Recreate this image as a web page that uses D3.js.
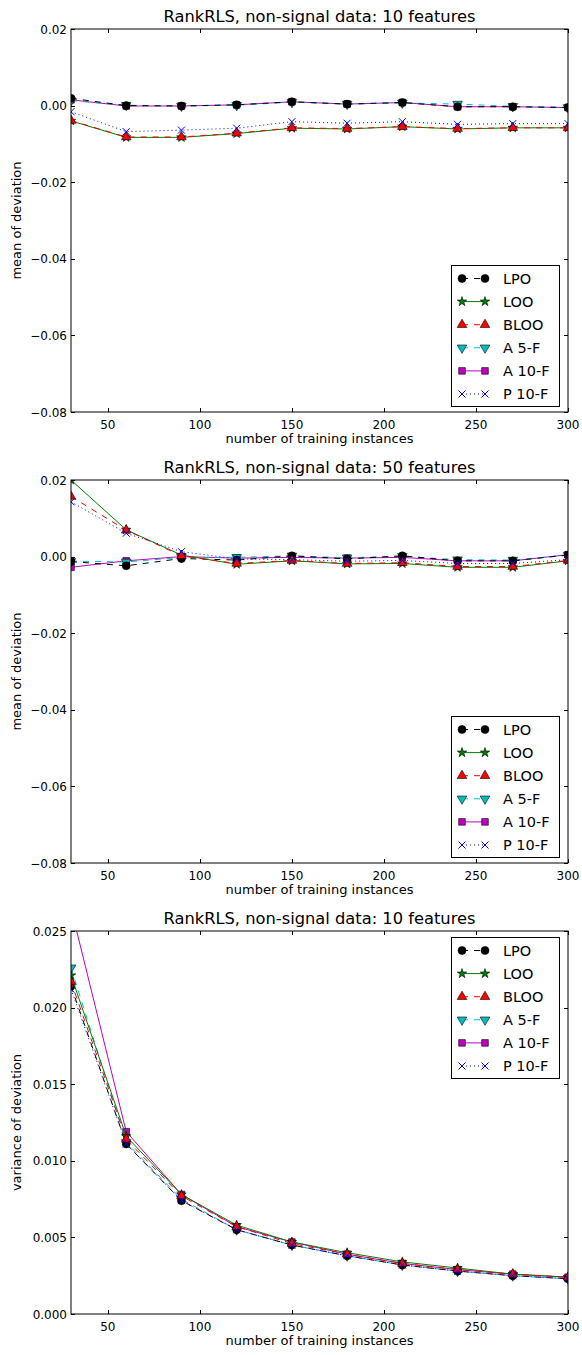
<!DOCTYPE html>
<html>
<head>
<meta charset="utf-8">
<style>
  body { margin: 0; padding: 0; background: #fff; }
  svg { display: block; }
  text { font-family: "DejaVu Sans", sans-serif; fill: #000; }
</style>
</head>
<body>
<div id="chart"></div>
<script src="https://d3js.org/d3.v7.min.js"></script>
<script>
// training set sizes
var xValues = [30, 60, 90, 120, 150, 180, 210, 240, 270, 300];
var seriesNames = ["LPO", "LOO", "BLOO", "A 5-F", "A 10-F", "P 10-F"];
var xTicks = [50, 100, 150, 200, 250, 300];

// panel 1: mean of deviation, 10 features
var mean10LPO  = [0.0019, 0.0000, -0.0001, 0.0002, 0.0010, 0.0004, 0.0008, -0.0003, -0.0003, -0.0005];
var mean10LOO  = [-0.0040, -0.0083, -0.0083, -0.0073, -0.0059, -0.0061, -0.0055, -0.0061, -0.0058, -0.0058];
var mean10BLOO = [-0.0039, -0.0082, -0.0082, -0.0072, -0.0058, -0.0060, -0.0055, -0.0060, -0.0058, -0.0058];
var mean10A5F  = [0.0013, 0.0001, -0.0001, 0.0001, 0.0009, 0.0004, 0.0007, 0.0004, -0.0002, -0.0005];
var mean10A10F = [0.0015, -0.0001, -0.0001, 0.0002, 0.0010, 0.0004, 0.0008, -0.0003, -0.0003, -0.0005];
var mean10P10F = [-0.0016, -0.0068, -0.0064, -0.0059, -0.0042, -0.0046, -0.0042, -0.0049, -0.0047, -0.0047];

// panel 2: mean of deviation, 50 features
var mean50LPO  = [-0.0013, -0.0024, -0.0005, -0.0009, 0.0002, -0.0006, 0.0002, -0.0011, -0.0011, 0.0004];
var mean50LOO  = [0.0200, 0.0070, 0.0004, -0.0020, -0.0011, -0.0019, -0.0018, -0.0028, -0.0028, -0.0011];
var mean50BLOO = [0.0157, 0.0069, 0.0002, -0.0018, -0.0010, -0.0018, -0.0016, -0.0026, -0.0026, -0.0010];
var mean50A5F  = [-0.0012, -0.0014, -0.0002, -0.0002, 0.0002, -0.0003, 0.0001, -0.0008, -0.0009, 0.0004];
var mean50A10F = [-0.0028, -0.0011, 0.0000, -0.0004, -0.0002, -0.0004, -0.0002, -0.0011, -0.0011, 0.0005];
var mean50P10F = [0.0143, 0.0061, 0.0013, -0.0006, -0.0008, -0.0012, -0.0010, -0.0018, -0.0018, -0.0008];

// panel 3: variance of deviation, 10 features
var var10LPO  = [0.0214, 0.0111, 0.0074, 0.0055, 0.0045, 0.0038, 0.0032, 0.0028, 0.0025, 0.0023];
var var10LOO  = [0.0221, 0.0116, 0.0078, 0.0058, 0.0047, 0.0040, 0.0034, 0.0030, 0.0026, 0.0024];
var var10BLOO = [0.0217, 0.0114, 0.0077, 0.0057, 0.0046, 0.0039, 0.0033, 0.0029, 0.0026, 0.0024];
var var10A5F  = [0.0226, 0.0112, 0.0075, 0.0055, 0.0045, 0.0038, 0.0032, 0.0028, 0.0025, 0.0023];
var var10A10F = [0.0265, 0.0119, 0.0078, 0.0057, 0.0047, 0.0039, 0.0033, 0.0029, 0.0026, 0.0024];
var var10P10F = [0.0212, 0.0111, 0.0074, 0.0055, 0.0045, 0.0038, 0.0032, 0.0028, 0.0025, 0.0023];

var meanTicks = [0.02, 0.00, -0.02, -0.04, -0.06, -0.08];
var varTicks = [0.025, 0.020, 0.015, 0.010, 0.005, 0.000];

// line style per series, same order as seriesNames
var styles = [
    { color: "#000000", dash: "6,6", marker: "circle" },
    { color: "#008000", dash: null,  marker: "star" },
    { color: "#ff0000", dash: "6,6", marker: "triUp" },
    { color: "#00bfbf", dash: "6,6", marker: "triDown" },
    { color: "#bf00bf", dash: null,  marker: "square" },
    { color: "#0000ff", dash: "1,3", marker: "x" }
];
// drawing order (magenta/cyan below the black circles)
var drawOrder = [4, 3, 0, 1, 2, 5];

var width = 582, height = 1355;
var left = 71, right = 568, plotH = 383;

var svg = d3.select("#chart").append("svg")
    .attr("width", width)
    .attr("height", height);

var x = d3.scaleLinear().domain([30, 300]).range([left, right]);

function drawMarker(g, kind, color, cx, cy) {
    if (kind === "x") {
        var s = 3.5;
        g.append("path")
            .attr("d", "M" + (cx - s) + "," + (cy - s) + "L" + (cx + s) + "," + (cy + s) +
                       "M" + (cx - s) + "," + (cy + s) + "L" + (cx + s) + "," + (cy - s))
            .attr("stroke", color).attr("stroke-width", 1).attr("fill", "none");
        return;
    }
    var sym, size, rot = 0;
    if (kind === "circle") { sym = d3.symbolCircle; size = 50; }
    else if (kind === "star") { sym = d3.symbolStar; size = 28; }
    else if (kind === "triUp") { sym = d3.symbolTriangle; size = 40; }
    else if (kind === "triDown") { sym = d3.symbolTriangle; size = 40; rot = 180; }
    else { sym = d3.symbolSquare; size = 44; }
    g.append("path")
        .attr("d", d3.symbol().type(sym).size(size)())
        .attr("transform", "translate(" + cx + "," + cy + ") rotate(" + rot + ")")
        .attr("fill", color)
        .attr("stroke", "#000")
        .attr("stroke-width", 0.6);
}

function drawPanel(idx, top, domain, ticks, fmt, title, ylabel, series, legendTop) {
    var y = d3.scaleLinear().domain(domain).range([top + plotH, top]);
    var bottom = top + plotH;

    var clipId = "clip" + idx;
    svg.append("clipPath").attr("id", clipId)
        .append("rect").attr("x", left).attr("y", top)
        .attr("width", right - left).attr("height", plotH);

    var plot = svg.append("g").attr("clip-path", "url(#" + clipId + ")");

    var line = d3.line().x(function(d, i) { return x(xValues[i]); }).y(function(d) { return y(d); });

    drawOrder.forEach(function(k) {
        var st = styles[k];
        plot.append("path")
            .attr("d", line(series[k]))
            .attr("fill", "none")
            .attr("stroke", st.color)
            .attr("stroke-width", 1)
            .attr("stroke-dasharray", st.dash);
        var mg = plot.append("g");
        series[k].forEach(function(v, i) {
            drawMarker(mg, st.marker, st.color, x(xValues[i]), y(v));
        });
    });

    // frame
    svg.append("rect")
        .attr("x", left).attr("y", top)
        .attr("width", right - left).attr("height", plotH)
        .attr("fill", "none").attr("stroke", "#000").attr("stroke-width", 1);

    // ticks point inward on all four sides
    var tg = svg.append("g").attr("stroke", "#000").attr("stroke-width", 1);
    xTicks.forEach(function(t) {
        var px = Math.round(x(t)) + 0.5;
        tg.append("line").attr("x1", px).attr("x2", px).attr("y1", bottom).attr("y2", bottom - 4);
        tg.append("line").attr("x1", px).attr("x2", px).attr("y1", top).attr("y2", top + 4);
        svg.append("text").attr("x", x(t)).attr("y", bottom + 17)
            .attr("text-anchor", "middle").attr("font-size", 12).text(t);
    });
    ticks.forEach(function(t) {
        var py = Math.round(y(t)) + 0.5;
        tg.append("line").attr("x1", left).attr("x2", left + 4).attr("y1", py).attr("y2", py);
        tg.append("line").attr("x1", right).attr("x2", right - 4).attr("y1", py).attr("y2", py);
        svg.append("text").attr("x", left - 4).attr("y", y(t) + 4.5)
            .attr("text-anchor", "end").attr("font-size", 12).text(fmt(t));
    });

    svg.append("text").attr("x", (left + right) / 2).attr("y", top - 7)
        .attr("text-anchor", "middle").attr("font-size", 16.3).text(title);
    svg.append("text").attr("x", (left + right) / 2).attr("y", bottom + 31)
        .attr("text-anchor", "middle").attr("font-size", 13).text("number of training instances");
    svg.append("text")
        .attr("transform", "translate(21," + (top + plotH / 2) + ") rotate(-90)")
        .attr("text-anchor", "middle").attr("font-size", 13).text(ylabel);

    // legend
    var lg = svg.append("g");
    lg.append("rect").attr("x", 451.5).attr("y", legendTop + 0.5)
        .attr("width", 108).attr("height", 141)
        .attr("fill", "#fff").attr("stroke", "#000").attr("stroke-width", 1);
    seriesNames.forEach(function(name, k) {
        var st = styles[k];
        var ly = legendTop + 13.5 + k * 23.1;
        lg.append("line").attr("x1", 462).attr("x2", 485).attr("y1", ly).attr("y2", ly)
            .attr("stroke", st.color).attr("stroke-width", 1)
            .attr("stroke-dasharray", st.dash);
        drawMarker(lg, st.marker, st.color, 462, ly);
        drawMarker(lg, st.marker, st.color, 485, ly);
        lg.append("text").attr("x", 503).attr("y", ly + 5)
            .attr("font-size", 14.5).text(name);
    });
}

function fmtMean(v) {
    var s = d3.format(".2f")(Math.abs(v));
    return (v < 0 ? "\u2212" : "") + s;
}
function fmtVar(v) { return d3.format(".3f")(v); }

drawPanel(0, 29, [-0.08, 0.02], meanTicks, fmtMean,
    "RankRLS, non-signal data: 10 features", "mean of deviation",
    [mean10LPO, mean10LOO, mean10BLOO, mean10A5F, mean10A10F, mean10P10F], 29 + 236);
drawPanel(1, 480, [-0.08, 0.02], meanTicks, fmtMean,
    "RankRLS, non-signal data: 50 features", "mean of deviation",
    [mean50LPO, mean50LOO, mean50BLOO, mean50A5F, mean50A10F, mean50P10F], 480 + 236);
drawPanel(2, 931, [0, 0.025], varTicks, fmtVar,
    "RankRLS, non-signal data: 10 features", "variance of deviation",
    [var10LPO, var10LOO, var10BLOO, var10A5F, var10A10F, var10P10F], 931 + 6);
</script>
</body>
</html>
